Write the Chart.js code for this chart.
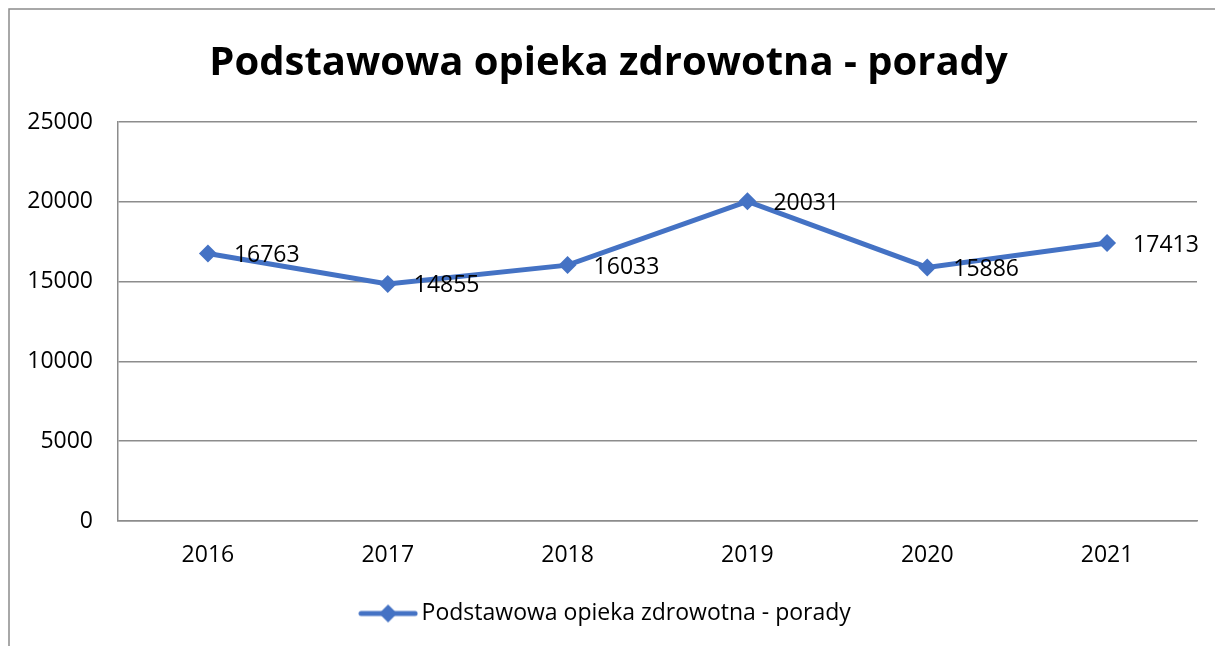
<!DOCTYPE html>
<html>
<head>
<meta charset="utf-8">
<script src="https://cdn.jsdelivr.net/npm/chart.js@4.4.1/dist/chart.umd.min.js"></script>
<style>
  html, body { margin: 0; padding: 0; background: #fff; }
  #wrap { width: 1215px; height: 646px; position: relative; }
</style>
</head>
<body>
<div id="wrap"><canvas id="chart-porady"></canvas></div>
<script>
// data
var YEARS = ['2016', '2017', '2018', '2019', '2020', '2021'];
var PORADY = [16763, 14855, 16033, 20031, 15886, 17413];
var SERIES_NAME = 'Podstawowa opieka zdrowotna - porady';
var TITLE = 'Podstawowa opieka zdrowotna - porady';
var Y_MIN = 0, Y_MAX = 25000, Y_STEP = 5000;

var LINE_COLOR = '#4472C4';
var GRID_COLOR = '#8c8c8c';
var FONT = '"Open Sans", "Liberation Sans", sans-serif';
var TEXT_SIZE = 23;

// legend symbol: line with a diamond in the middle
function legendSymbol() {
  var c = document.createElement('canvas');
  c.width = 60; c.height = 22;
  var g = c.getContext('2d');
  g.strokeStyle = LINE_COLOR;
  g.lineWidth = 5;
  g.lineCap = 'round';
  g.beginPath(); g.moveTo(3, 11); g.lineTo(57, 11); g.stroke();
  g.fillStyle = LINE_COLOR;
  g.beginPath(); g.moveTo(30, 2); g.lineTo(39, 11); g.lineTo(30, 20); g.lineTo(21, 11); g.closePath(); g.fill();
  return c;
}

// outer chart frame (only top and left are inside the picture)
var framePlugin = {
  id: 'frame',
  beforeDraw: function(chart) {
    var ctx = chart.ctx;
    ctx.save();
    ctx.strokeStyle = GRID_COLOR;
    ctx.lineWidth = 1.5;
    ctx.strokeRect(9, 9, 1400, 1400);
    ctx.restore();
  }
};

// value labels to the right of each point
var valueLabels = {
  id: 'valueLabels',
  afterDatasetsDraw: function(chart) {
    var ctx = chart.ctx;
    var meta = chart.getDatasetMeta(0);
    var data = chart.data.datasets[0].data;
    ctx.save();
    ctx.font = TEXT_SIZE + 'px ' + FONT;
    ctx.fillStyle = '#000';
    ctx.textAlign = 'left';
    ctx.textBaseline = 'middle';
    for (var i = 0; i < meta.data.length; i++) {
      var p = meta.data[i];
      ctx.fillText(String(data[i]), p.x + 26, p.y + 2);
    }
    ctx.restore();
  }
};

new Chart(document.getElementById('chart-porady'), {
  type: 'line',
  data: {
    labels: YEARS,
    datasets: [{
      label: SERIES_NAME,
      data: PORADY,
      borderColor: LINE_COLOR,
      backgroundColor: LINE_COLOR,
      borderWidth: 5,
      pointStyle: 'rectRot',
      pointRadius: 9,
      pointHoverRadius: 9,
      pointBorderWidth: 0,
      tension: 0
    }]
  },
  options: {
    responsive: true,
    maintainAspectRatio: false,
    animation: false,
    layout: { padding: { left: 20, right: 18, top: 12, bottom: 11 } },
    plugins: {
      tooltip: { enabled: false },
      title: {
        display: true,
        text: TITLE,
        color: '#000',
        font: { family: FONT, size: 40, weight: 'bold' },
        padding: { top: 28, bottom: 34 }
      },
      legend: {
        position: 'bottom',
        labels: {
          color: '#000',
          font: { family: FONT, size: TEXT_SIZE },
          usePointStyle: true,
          pointStyleWidth: 44,
          padding: 10,
          generateLabels: function(chart) {
            return [{
              text: SERIES_NAME,
              pointStyle: legendSymbol(),
              fillStyle: LINE_COLOR,
              strokeStyle: LINE_COLOR,
              lineWidth: 0,
              datasetIndex: 0,
              hidden: false
            }];
          }
        }
      }
    },
    scales: {
      x: {
        offset: true,
        grid: { display: false, drawTicks: false },
        border: { display: true, color: GRID_COLOR, width: 1.5 },
        ticks: { color: '#000', font: { family: FONT, size: TEXT_SIZE }, padding: 21 },
        afterFit: function(s) { s.height = 71; }
      },
      y: {
        min: Y_MIN,
        max: Y_MAX,
        grid: { color: GRID_COLOR, lineWidth: 1.5, drawTicks: false },
        border: { display: true, color: GRID_COLOR, width: 1.5 },
        ticks: {
          stepSize: Y_STEP, color: '#000', font: { family: FONT, size: TEXT_SIZE }, padding: 25,
          callback: function(v) { return String(v); }
        },
        afterFit: function(s) { s.width = 98; }
      }
    }
  },
  plugins: [framePlugin, valueLabels]
});
</script>
</body>
</html>
